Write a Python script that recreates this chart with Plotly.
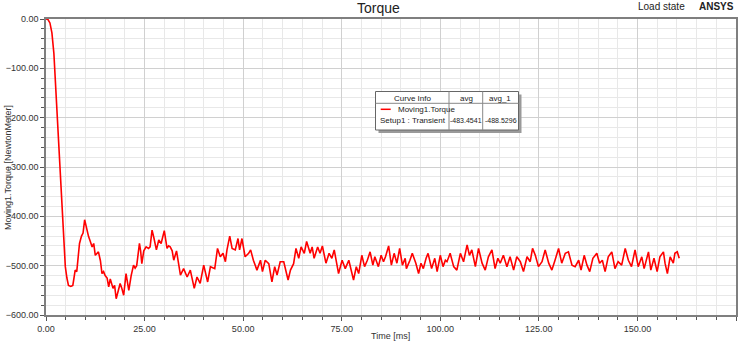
import plotly.graph_objects as go

# ---------------- data ----------------
time_ms = [0, 0.5, 1.0, 1.5, 2.0, 2.5, 3.0, 3.5, 4.05, 4.5, 4.9, 5.3, 5.7, 6.3, 6.8, 7.1, 7.4, 7.8,
           8.5, 9.0, 9.4, 9.8, 10.3, 10.8, 11.2, 11.7, 12.1, 12.5, 13.3, 13.8, 14.2, 14.6, 15.0, 15.5,
           15.9, 16.3, 17.0, 17.4, 17.8, 18.3, 18.8, 19.2, 19.7, 20.3, 20.6, 21.0, 21.6, 22.2, 22.6,
           23.0, 23.7, 24.0, 24.3, 24.8, 25.4, 26.0, 26.4, 26.9, 27.4, 28.0, 28.6, 29.2, 30.0, 30.7,
           31.1, 31.5, 32.0, 32.4, 33.1, 34.1, 34.9, 35.8, 36.6, 37.6, 38.3, 39.1, 40.0, 41.0, 41.7,
           42.8, 43.5, 44.2, 44.9, 45.5, 45.9, 46.6, 47.2, 48.0, 48.7, 49.1, 49.7, 50.5, 51.4, 51.9,
           52.6, 53.5, 54.4, 54.9, 55.6, 56.5, 57.3, 58.0, 58.6, 59.4, 60.3, 61.4, 62.0, 62.8, 63.4,
           64.1, 64.7, 65.5, 66.1, 67.0, 67.5, 68.0, 68.9, 69.5, 70.1, 71.0, 71.8, 72.5, 73.1, 73.8,
           74.2, 75.1, 75.9, 76.8, 77.4, 78.0, 78.7, 79.3, 80.1, 80.8, 81.5, 82.2, 82.9, 83.4, 84.3,
           85.0, 85.6, 86.1, 86.9, 87.6, 88.3, 89.0, 89.7, 90.4, 91.1, 91.4, 92.3, 92.9, 93.8, 94.5,
           95.1, 95.7, 96.4, 96.9, 97.8, 98.6, 99.2, 100.0, 100.7, 101.3, 101.7, 102.5, 103.4, 104.2,
           105.1, 105.9, 106.8, 107.4, 108.0, 108.9, 109.7, 110.6, 111.4, 112.2, 113.1, 113.9, 114.6,
           115.2, 116.0, 116.9, 117.7, 118.6, 119.4, 120.3, 121.1, 122.0, 122.8, 123.4, 124.1, 124.9,
           125.8, 126.6, 127.5, 128.3, 129.1, 130.0, 130.8, 131.7, 132.5, 133.4, 134.2, 135.1, 135.7,
           136.5, 137.2, 137.9, 138.7, 139.7, 140.4, 141.1, 141.8, 142.6, 143.5, 144.3, 145.1, 146.0,
           146.9, 147.7, 148.5, 149.4, 150.2, 151.1, 151.7, 152.8, 153.4, 154.2, 155.0, 155.7, 156.6,
           157.0, 157.6, 158.3, 159.1, 159.5, 160.1, 160.6]

torque = [0, -1, -8, -28, -70, -140, -225, -300, -367, -440, -502, -525, -540, -542, -540, -525, -509, -512,
          -455, -440, -434, -407, -425, -441, -450, -462, -455, -479, -472, -490, -516, -512, -520, -525,
          -543, -527, -546, -540, -567, -550, -536, -545, -560, -516, -530, -550, -520, -499, -505,
          -500, -455, -470, -496, -470, -462, -465, -462, -428, -445, -468, -448, -455, -429, -465,
          -460, -462, -470, -489, -470, -519, -506, -523, -509, -546, -523, -536, -499, -533, -502,
          -506, -465, -482, -475, -492, -468, -440, -465, -468, -445, -468, -445, -482, -475, -468,
          -489, -509, -489, -512, -489, -496, -533, -502, -519, -492, -492, -529, -509, -496, -465,
          -485, -462, -475, -451, -475, -462, -485, -462, -475, -460, -495, -475, -485, -468, -495,
          -516, -489, -506, -489, -509, -529, -502, -516, -479, -502, -489, -472, -499, -482, -502,
          -479, -492, -482, -460, -499, -475, -495, -465, -499, -485, -506, -489, -475, -495, -516,
          -495, -506, -485, -475, -506, -485, -512, -479, -502, -489, -492, -475, -502, -509,
          -475, -492, -458, -479, -468, -502, -465, -495, -509, -482, -468, -506, -485,
          -495, -479, -502, -482, -509, -482, -492, -512, -482, -492, -465, -479, -502,
          -492, -468, -495, -509, -489, -465, -495, -475, -472, -499, -502, -489, -509,
          -479, -499, -512, -485, -475, -495, -489, -512, -482, -472, -506, -492, -499,
          -465, -489, -502, -468, -502, -482, -506, -472, -509, -485, -512, -482, -472,
          -495, -516, -482, -495, -475, -472, -485]

x_ticks = [0, 25, 50, 75, 100, 125, 150, 175]
y_ticks = [0, -100, -200, -300, -400, -500, -600]

table_header = ["Curve Info", "avg", "avg_1"]
curve_name = "Moving1.Torque"
setup_name = "Setup1 : Transient"
avg_values = ["-483.4541", "-488.5296"]

# ---------------- layout helpers ----------------
W, H = 747, 344
L, R, T, B = 46, 11, 19, 29
PW, PH = W - L - R, H - T - B


def px(x):
    return (x - L) / PW


def py(y):
    return (H - B - y) / PH


FONT = "Liberation Sans, Arial, sans-serif"
TXT = "#333333"

fig = go.Figure()
fig.add_trace(go.Scatter(x=time_ms, y=torque, mode="lines",
                         line=dict(color="#ff0000", width=1.6),
                         name=curve_name, showlegend=False, hoverinfo="x+y"))

axis_common = dict(showline=True, mirror=True, linecolor="#7f7f7f", linewidth=1.5,
                   showgrid=True, gridcolor="#d0d0d0", gridwidth=1, zeroline=False,
                   ticks="outside", ticklen=4, tickcolor="#555555",
                   tickfont=dict(family=FONT, size=9, color=TXT))

fig.update_xaxes(range=[0, 175], tickvals=x_ticks, tickformat=".2f",
                 minor=dict(dtick=5, tick0=0, showgrid=True, gridcolor="#e8e8e8",
                            ticks="outside", ticklen=3, tickcolor="#555555"),
                 **axis_common)
fig.update_yaxes(range=[-600, 0], tickvals=y_ticks, tickformat=".2f",
                 minor=dict(dtick=20, tick0=0, showgrid=True, gridcolor="#e8e8e8",
                            ticks="outside", ticklen=3, tickcolor="#555555"),
                 **axis_common)

annotations = [
    dict(text="Torque", x=px(378), y=py(8), font=dict(family=FONT, size=14, color="#222222")),
    dict(text="Load state", x=px(661), y=py(7), font=dict(family=FONT, size=10, color="#222222")),
    dict(text="<b>ANSYS</b>", x=px(716), y=py(7), font=dict(family=FONT, size=10, color="#222222")),
    dict(text="Time [ms]", x=px(390), y=py(336), font=dict(family=FONT, size=9, color=TXT)),
    dict(text="Moving1.Torque [NewtonMeter]", x=px(8), y=py(168), textangle=-90,
         font=dict(family=FONT, size=9, color=TXT)),
    # table texts
    dict(text=table_header[0], x=px(412), y=py(98.5), font=dict(family=FONT, size=8, color="#222222")),
    dict(text=table_header[1], x=px(466), y=py(98.5), font=dict(family=FONT, size=8, color="#222222")),
    dict(text=table_header[2], x=px(500), y=py(98.5), font=dict(family=FONT, size=8, color="#222222")),
    dict(text=curve_name, x=px(396), y=py(109.5), xanchor="left",
         font=dict(family=FONT, size=8, color="#222222")),
    dict(text=setup_name, x=px(378), y=py(120), xanchor="left",
         font=dict(family=FONT, size=8, color="#222222")),
    dict(text=avg_values[0], x=px(466), y=py(120), font=dict(family=FONT, size=7, color="#222222")),
    dict(text=avg_values[1], x=px(500.5), y=py(120), font=dict(family=FONT, size=7, color="#222222")),
]
for a in annotations:
    a.update(xref="paper", yref="paper", showarrow=False)
    a.setdefault("xanchor", "center")
    a.setdefault("yanchor", "middle")

box_l, box_r, box_t, box_b = 375.5, 518.5, 91.5, 130
shapes = [
    dict(type="rect", x0=px(box_l + 3), x1=px(box_r + 3), y0=py(box_t + 3), y1=py(box_b + 3),
         fillcolor="#9a9a9a", line=dict(width=0), layer="above"),
    dict(type="rect", x0=px(box_l), x1=px(box_r), y0=py(box_t), y1=py(box_b),
         fillcolor="white", line=dict(color="#666666", width=1), layer="above"),
    dict(type="line", x0=px(box_l), x1=px(box_r), y0=py(103.3), y1=py(103.3),
         line=dict(color="#888888", width=1), layer="above"),
    dict(type="line", x0=px(449), x1=px(449), y0=py(box_t), y1=py(box_b),
         line=dict(color="#888888", width=1), layer="above"),
    dict(type="line", x0=px(482.7), x1=px(482.7), y0=py(box_t), y1=py(box_b),
         line=dict(color="#888888", width=1), layer="above"),
    dict(type="line", x0=px(380.7), x1=px(390.7), y0=py(109.3), y1=py(109.3),
         line=dict(color="#ff0000", width=1.5), layer="above"),
]
for s in shapes:
    s.update(xref="paper", yref="paper")

fig.update_layout(width=W, height=H, margin=dict(l=L, r=R, t=T, b=B, autoexpand=False),
                  paper_bgcolor="white", plot_bgcolor="white",
                  annotations=annotations, shapes=shapes, showlegend=False)

fig.write_html("out.html", config={"displayModeBar": False},
               post_script="document.body.style.margin='0';document.body.style.overflow='hidden';")
